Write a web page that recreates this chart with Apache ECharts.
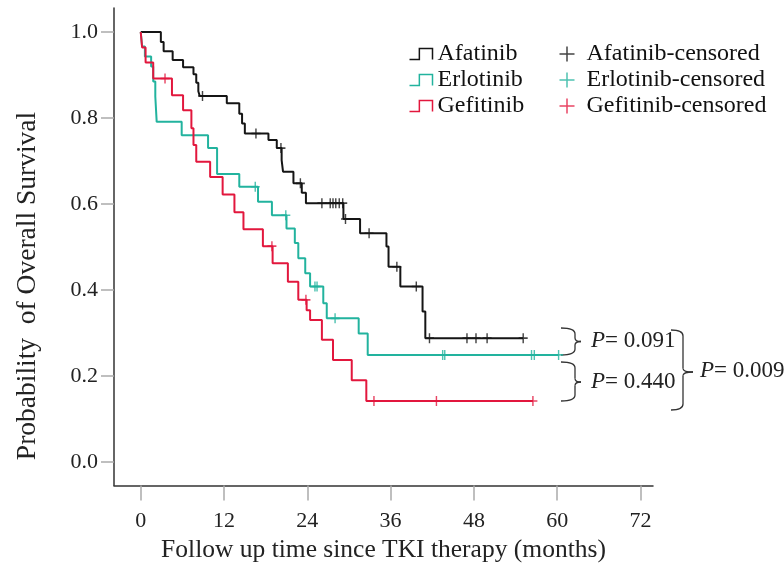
<!DOCTYPE html>
<html><head><meta charset="utf-8">
<script src="https://cdn.jsdelivr.net/npm/echarts@6/dist/echarts.min.js"></script>
<style>html,body{margin:0;padding:0;background:#fff}#c{width:784px;height:565px}</style>
</head><body><div id="c"></div>
<script>
// ---- data ----
const xTicks = [0, 12, 24, 36, 48, 60, 72];
const yTicks = [0, 0.2, 0.4, 0.6, 0.8, 1.0];

const afatinibTimes = [0, 2.9, 3.3, 4.6, 6.1, 7.6, 8.0, 8.3, 8.5, 12.4, 14.2, 14.6, 15.0, 18.4, 19.6, 20.3, 20.5, 22.0, 23.2, 23.8, 29.2, 31.6, 35.4, 35.7, 37.4, 40.6, 41.0];
const afatinibSurv  = [1.0, 0.977, 0.955, 0.935, 0.918, 0.902, 0.882, 0.862, 0.851, 0.834, 0.81, 0.787, 0.764, 0.749, 0.73, 0.702, 0.675, 0.648, 0.626, 0.602, 0.565, 0.532, 0.501, 0.454, 0.408, 0.35, 0.288];
const afatinibEnd = 55.1;
const afatinibCensor = [8.9, 16.6, 20.2, 23.0, 26.1, 27.3, 27.7, 28.1, 28.6, 29.1, 29.5, 32.9, 36.9, 39.7, 41.6, 47.0, 48.3, 49.9, 55.1];

const erlotinibTimes = [0, 0.2, 0.6, 1.5, 1.8, 2.1, 2.3, 5.9, 9.7, 11.0, 14.2, 16.9, 18.9, 21.0, 22.2, 22.7, 23.7, 24.4, 26.3, 26.8, 31.4, 32.7];
const erlotinibSurv  = [1.0, 0.966, 0.943, 0.92, 0.885, 0.85, 0.791, 0.76, 0.73, 0.67, 0.64, 0.605, 0.574, 0.543, 0.509, 0.474, 0.439, 0.408, 0.369, 0.334, 0.299, 0.249];
const erlotinibEnd = 60.2;
const erlotinibCensor = [16.5, 20.9, 25.1, 25.4, 28.0, 43.5, 43.8, 56.3, 56.7, 60.2];

const gefitinibTimes = [0, 0.2, 0.7, 1.8, 4.5, 6.1, 7.3, 7.6, 8.0, 10.0, 11.8, 13.5, 14.8, 17.6, 19.0, 21.2, 22.7, 23.9, 24.4, 26.1, 27.7, 30.4, 32.5];
const gefitinibSurv  = [1.0, 0.964, 0.929, 0.892, 0.853, 0.818, 0.776, 0.737, 0.698, 0.663, 0.622, 0.581, 0.541, 0.502, 0.462, 0.419, 0.377, 0.353, 0.330, 0.284, 0.237, 0.19, 0.142];
const gefitinibEnd = 56.5;
const gefitinibCensor = [3.5, 18.9, 23.8, 33.6, 42.6, 56.5];

const groupNames = ['Afatinib', 'Erlotinib', 'Gefitinib'];
const pLabels = ['0.091', '0.440', '0.009'];
const xTitle = 'Follow up time since TKI therapy (months)';
const yTitle = 'Probability  of Overall Survival';

// ---- styles ----
const FONT = 'Liberation Serif';
const colors = ['#151515', '#22b39e', '#e2173d'];

function stepData(times, surv, end) {
  const d = times.map((t, i) => [t, surv[i]]);
  d.push([end, surv[surv.length - 1]]);
  return d;
}
function survAt(times, surv, t) {
  let s = surv[0];
  for (let i = 0; i < times.length; i++) { if (times[i] <= t) s = surv[i]; }
  return s;
}
const groups = [
  [afatinibTimes, afatinibSurv, afatinibEnd, afatinibCensor],
  [erlotinibTimes, erlotinibSurv, erlotinibEnd, erlotinibCensor],
  [gefitinibTimes, gefitinibSurv, gefitinibEnd, gefitinibCensor]
];
const plusPath = 'path://M0,5L10,5M5,0L5,10';
const stepIcon = 'path://M0,10L9,10L9,0L21,0L21,10';

const series = [];
groups.forEach((g, i) => {
  series.push({
    name: groupNames[i], type: 'line', step: 'end', showSymbol: false, symbol: 'none',
    data: stepData(g[0], g[1], g[2]),
    lineStyle: { color: colors[i], width: 2 }, itemStyle: { color: colors[i] },
    animation: false, z: 2
  });
});
groups.forEach((g, i) => {
  series.push({
    name: groupNames[i] + '-censored', type: 'scatter', symbol: plusPath, symbolSize: [9, 10],
    data: g[3].map(t => [t, survAt(g[0], g[1], t)]),
    itemStyle: { color: 'none', borderColor: colors[i], borderWidth: 1.5 },
    animation: false, z: 3
  });
});

// brace decoration: left x, spine x, tip x, top y, mid y, bottom y, curve radius
function brace(xl, xs, xt, yt, ym, yb, r) {
  const st = { stroke: '#333', lineWidth: 1.3, fill: 'none' };
  return [
    { type: 'bezierCurve', shape: { x1: xl, y1: yt, cpx1: xs, cpy1: yt, x2: xs, y2: yt + r }, style: st },
    { type: 'line', shape: { x1: xs, y1: yt + r, x2: xs, y2: ym - r * 0.6 }, style: st },
    { type: 'bezierCurve', shape: { x1: xs, y1: ym - r * 0.6, cpx1: xs, cpy1: ym, x2: xt, y2: ym }, style: st },
    { type: 'bezierCurve', shape: { x1: xt, y1: ym, cpx1: xs, cpy1: ym, x2: xs, y2: ym + r * 0.6 }, style: st },
    { type: 'line', shape: { x1: xs, y1: ym + r * 0.6, x2: xs, y2: yb - r }, style: st },
    { type: 'bezierCurve', shape: { x1: xs, y1: yb - r, cpx1: xs, cpy1: yb, x2: xl, y2: yb }, style: st }
  ];
}
function pText(x, y, label) {
  return { type: 'text', x: x, y: y,
    style: { text: '{i|P}= ' + label, fontFamily: FONT, fontSize: 23, fill: '#222', verticalAlign: 'middle',
      rich: { i: { fontStyle: 'italic', fontFamily: FONT, fontSize: 23, fill: '#222' } } } };
}

const chart = echarts.init(document.getElementById('c'));
const axisFont = { fontFamily: FONT, fontSize: 22, color: '#222' };
chart.setOption({
  backgroundColor: '#fff',
  animation: false,
  grid: { left: 114, right: 131, top: 8, bottom: 79.5, containLabel: false, outerBoundsMode: 'none' },
  xAxis: {
    type: 'value', min: -3.85, max: 73.8,
    name: xTitle, nameLocation: 'middle', nameGap: 52,
    nameTextStyle: { fontFamily: FONT, fontSize: 25.5, color: '#222' },
    axisLine: { show: true, onZero: false, lineStyle: { color: '#333', width: 1.5 } },
    axisTick: { show: true, customValues: xTicks, length: 15, lineStyle: { color: '#aaa', width: 1.5 } },
    axisLabel: { customValues: xTicks, margin: 25, ...axisFont },
    splitLine: { show: false }
  },
  yAxis: {
    type: 'value', min: -0.0547, max: 1.0558,
    axisLine: { show: true, onZero: false, lineStyle: { color: '#333', width: 1.5 } },
    axisTick: { show: true, customValues: yTicks, length: 13, lineStyle: { color: '#aaa', width: 1.5 } },
    axisLabel: { customValues: yTicks, margin: 16, formatter: v => v.toFixed(1), ...axisFont },
    splitLine: { show: false }
  },
  legend: [
    {
      orient: 'vertical', left: 407, top: 42, padding: 0, itemGap: 2,
      itemWidth: 23, itemHeight: 11,
      textStyle: { fontFamily: FONT, fontSize: 24, color: '#111' },
      data: groupNames.map((n, i) => ({ name: n, icon: stepIcon,
        itemStyle: { color: 'none', borderColor: colors[i], borderWidth: 1.5 } }))
    },
    {
      orient: 'vertical', left: 557, top: 42, padding: 0, itemGap: 2,
      itemWidth: 29, itemHeight: 15,
      textStyle: { fontFamily: FONT, fontSize: 24, color: '#111' },
      data: groupNames.map((n, i) => ({ name: n + '-censored', icon: plusPath,
        itemStyle: { color: 'none', borderColor: colors[i], borderWidth: 1.5 } }))
    }
  ],
  graphic: [
    { type: 'text', x: 28, y: 286, rotation: Math.PI / 2,
      style: { text: yTitle, fontFamily: FONT, fontSize: 27.5, fill: '#222', align: 'center', verticalAlign: 'middle' } },
    ...brace(561, 575, 581, 328, 341.5, 355, 6),
    ...brace(561, 575, 581, 362, 382, 401, 6),
    ...brace(671, 683, 693, 330, 372, 410, 6),
    pText(591, 341, pLabels[0]),
    pText(591, 382, pLabels[1]),
    pText(700, 371, pLabels[2])
  ],
  series: series
});
</script>
</body></html>
